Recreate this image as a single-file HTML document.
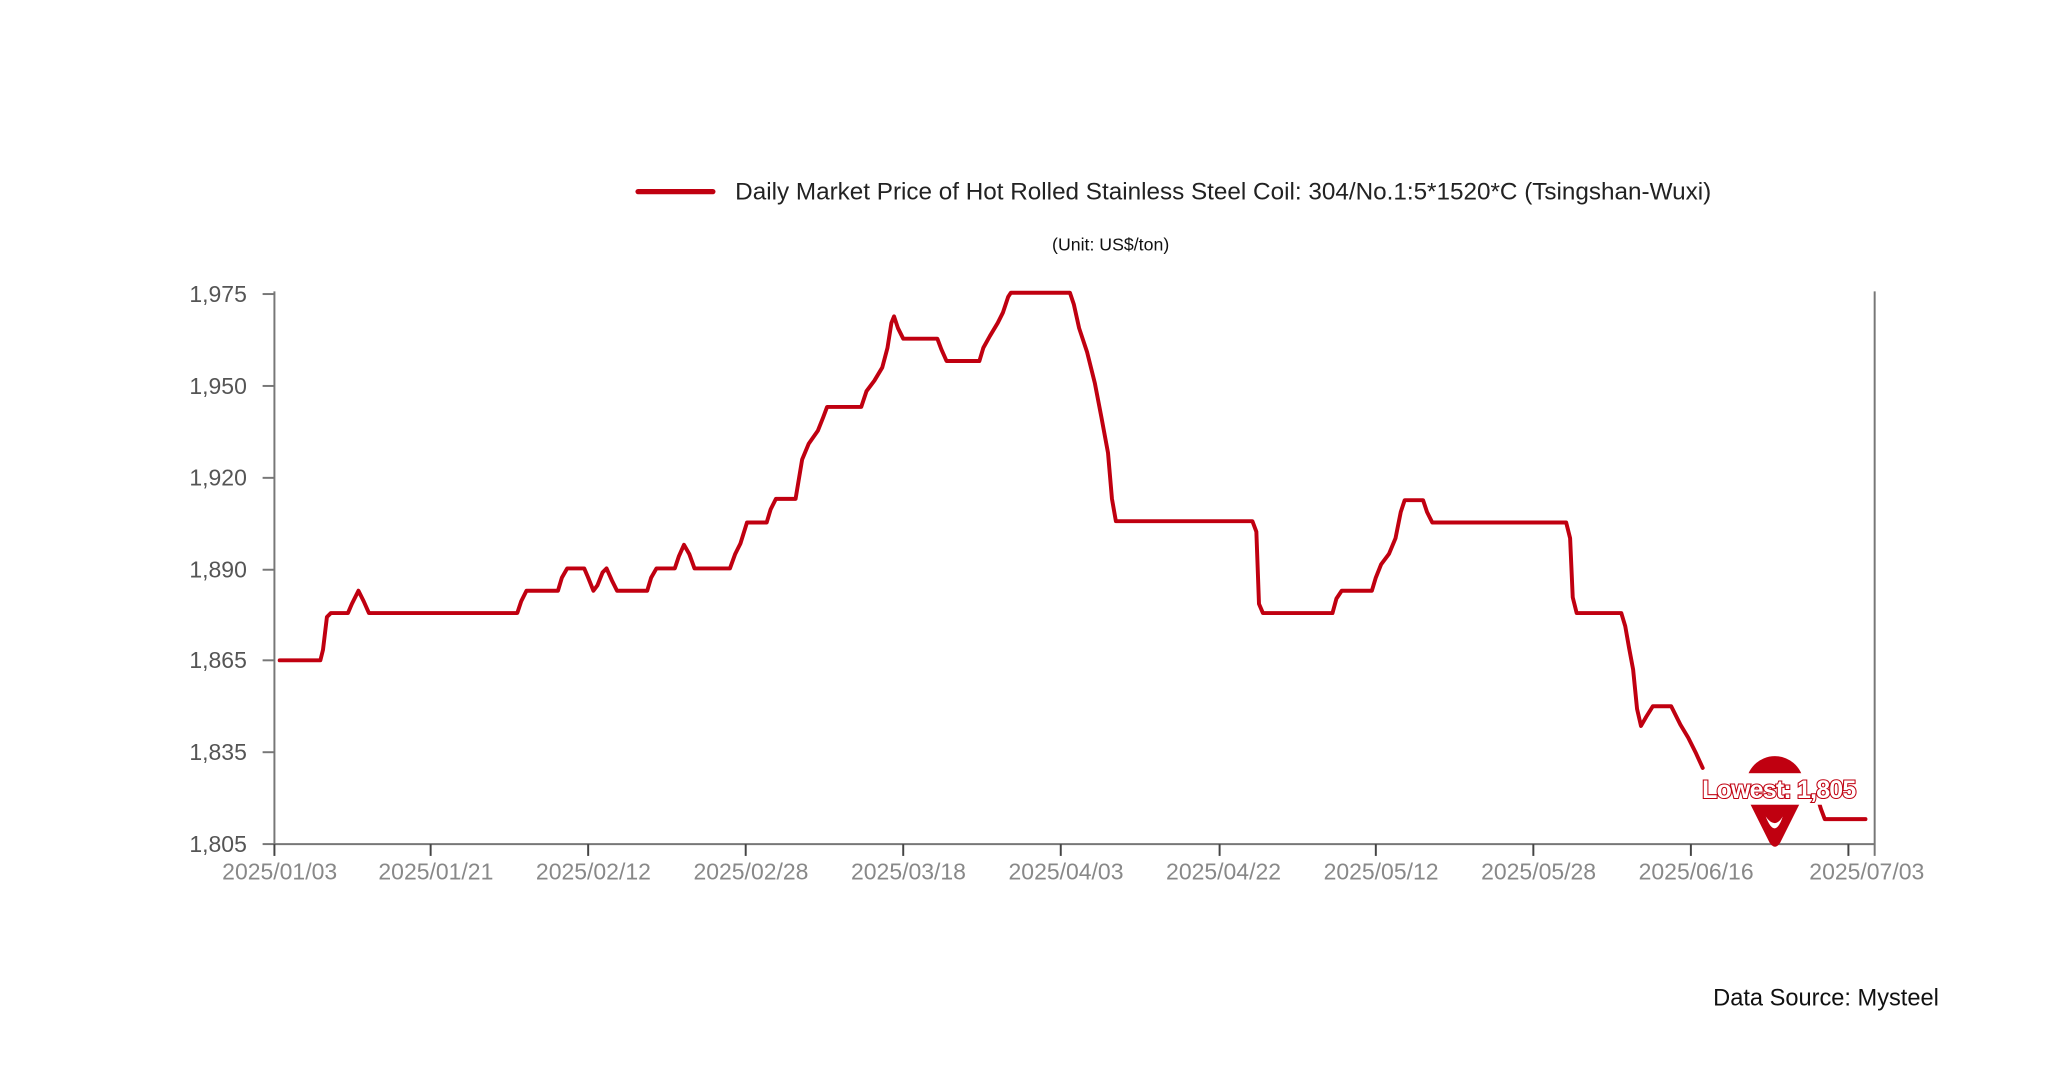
<!DOCTYPE html>
<html><head><meta charset="utf-8"><style>
html,body{margin:0;padding:0;background:#fff;}
svg{display:block;}
</style></head><body>
<svg width="2048" height="1080" viewBox="0 0 1560 822.7" xmlns="http://www.w3.org/2000/svg" font-family="Liberation Sans, DejaVu Sans, sans-serif">
<rect width="1560" height="822.7" fill="#fff"/>
<!-- legend -->
<line x1="486" y1="146" x2="543" y2="146" stroke="#c00010" stroke-width="4" stroke-linecap="round"/>
<text x="560" y="152" font-size="18.5" fill="#222">Daily Market Price of Hot Rolled Stainless Steel Coil: 304/No.1:5*1520*C (Tsingshan-Wuxi)</text>
<text x="846" y="191" font-size="13.5" fill="#111" text-anchor="middle">(Unit: US$/ton)</text>
<!-- axes -->
<g stroke="#777" stroke-width="1.5" fill="none">
<line x1="209" y1="222" x2="209" y2="643"/>
<line x1="209" y1="643" x2="1428" y2="643"/>
<line x1="1428" y1="222" x2="1428" y2="652"/>
<line x1="200" y1="224" x2="209" y2="224"/>
<line x1="200" y1="294" x2="209" y2="294"/>
<line x1="200" y1="364" x2="209" y2="364"/>
<line x1="200" y1="434" x2="209" y2="434"/>
<line x1="200" y1="503" x2="209" y2="503"/>
<line x1="200" y1="573" x2="209" y2="573"/>
<line x1="200" y1="643" x2="209" y2="643"/>
</g>
<g stroke="#444" stroke-width="1.5">
<line x1="209" y1="643" x2="209" y2="652"/>
<line x1="328" y1="643" x2="328" y2="652"/>
<line x1="448" y1="643" x2="448" y2="652"/>
<line x1="568" y1="643" x2="568" y2="652"/>
<line x1="688" y1="643" x2="688" y2="652"/>
<line x1="808" y1="643" x2="808" y2="652"/>
<line x1="929" y1="643" x2="929" y2="652"/>
<line x1="1048" y1="643" x2="1048" y2="652"/>
<line x1="1168" y1="643" x2="1168" y2="652"/>
<line x1="1288" y1="643" x2="1288" y2="652"/>
<line x1="1408" y1="643" x2="1408" y2="652"/>
</g>
<g font-size="17.5" fill="#555" text-anchor="end">
<text x="188" y="230">1,975</text>
<text x="188" y="300">1,950</text>
<text x="188" y="370">1,920</text>
<text x="188" y="440">1,890</text>
<text x="188" y="509">1,865</text>
<text x="188" y="579">1,835</text>
<text x="188" y="649">1,805</text>
</g>
<g font-size="17.5" fill="#888" text-anchor="middle">
<text x="213" y="670">2025/01/03</text>
<text x="332" y="670">2025/01/21</text>
<text x="452" y="670">2025/02/12</text>
<text x="572" y="670">2025/02/28</text>
<text x="692" y="670">2025/03/18</text>
<text x="812" y="670">2025/04/03</text>
<text x="932" y="670">2025/04/22</text>
<text x="1052" y="670">2025/05/12</text>
<text x="1172" y="670">2025/05/28</text>
<text x="1292" y="670">2025/06/16</text>
<text x="1422" y="670">2025/07/03</text>
</g>
<!-- series -->
<polyline fill="none" stroke="#c00010" stroke-width="3" stroke-linejoin="round" stroke-linecap="round" points="
213,503 244,503 246,495 249,470 252,467 265,467 268,460 273,450 277,458 281,467 394,467 397,458 401,450 425,450 428,440 432,433 445,433 448,440 452,450 455,446 459,436 462,433 466,442 470,450 493,450 496,440 500,433 514,433 517,424 521,415 525,422 529,433 556,433 560,422 564,414 569,398 584,398 587,388 591,380 606,380 608,368 611,350 616,338 623,328 627,318 630,310 656,310 660,298 666,290 672,280 676,265 679,246 681,241 684,250 688,258 714,258 717,266 721,275 746,275 749,265 754,256 760,246 764,238 768,226 770,223 815,223 818,232 822,250 828,268 834,292 839,318 844,345 847,380 850,397 954,397 957,405 959,460 962,467 1015,467 1018,456 1022,450 1045,450 1048,440 1052,430 1058,422 1063,410 1067,390 1070,381 1084,381 1087,390 1091,398 1193,398 1196,410 1198,455 1201,467 1235,467 1238,477 1241,494 1244,510 1247,540 1250,553 1254,546 1259,538 1273,538 1276,544 1280,552 1286,562 1292,574 1297,585"/>
<polyline fill="none" stroke="#c00010" stroke-width="3" stroke-linejoin="round" stroke-linecap="round" points="1384,606 1387,616 1390,624 1421,624"/>
<!-- marker -->
<circle cx="1352" cy="598" r="22" fill="#c00010"/>
<path d="M1330,606 L1374,606 L1356,642 Q1352,648 1348,642 Z" fill="#c00010"/>
<path d="M1345,622 Q1352,640 1358,622 Q1352,632 1345,622 Z" fill="#fff"/>
<rect x="1296" y="589" width="116" height="24" fill="#fff"/>
<text x="1355" y="608" font-size="19" font-weight="bold" text-anchor="middle" fill="#fff" stroke="#c00010" stroke-width="1.6" paint-order="stroke" font-family="Liberation Sans Narrow, Liberation Sans, sans-serif" letter-spacing="-0.6">Lowest: 1,805</text>
<text x="1305" y="766" font-size="18" fill="#111">Data Source: Mysteel</text>
</svg>
</body></html>
